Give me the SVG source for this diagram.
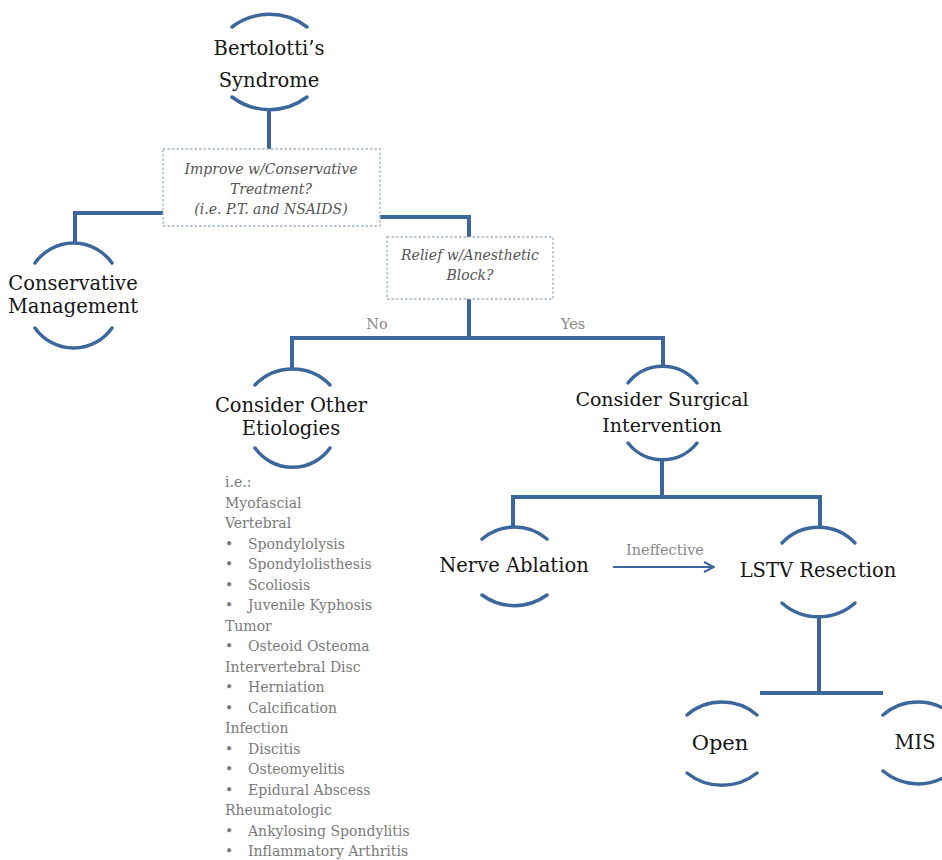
<svg xmlns="http://www.w3.org/2000/svg" width="942" height="860" viewBox="0 0 942 860" font-family="'DejaVu Serif', serif">
<style>
.arc{fill:none;stroke:#3b679c;stroke-width:3.5;stroke-linecap:round}
.ln{fill:none;stroke:#3b679c;stroke-width:4}
.node{font-size:19.5px;fill:#151515;text-anchor:middle}
.box{fill:#fff;stroke:#9fb3cc;stroke-width:1.3;stroke-dasharray:2.5,2}
.q{font-style:italic;font-size:14px;fill:#555;text-anchor:middle}
.lbl{font-size:14.5px;fill:#8a8a8a;text-anchor:middle}
.lst{font-size:14px;fill:#7a7a7a}
</style>
<defs>
<marker id="ah" viewBox="0 0 12 12" refX="11" refY="6" markerWidth="12" markerHeight="12" markerUnits="userSpaceOnUse" orient="auto">
<path d="M1,1 L11,6 L1,11" fill="none" stroke="#3b679c" stroke-width="2"/>
</marker>
</defs>
<rect width="942" height="860" fill="#fff"/>
<g id="connectors">
<path class="ln" d="M269,110 V149"/>
<path class="ln" d="M163,213 H75 V243"/>
<path class="ln" d="M380,217 H469 V237"/>
<path class="ln" d="M469,299 V338"/>
<path class="ln" d="M292,370 V338 H663 V366"/>
<path class="ln" d="M662,458 V497"/>
<path class="ln" d="M513,526 V497 H820 V527"/>
<path class="ln" d="M819,617 V693"/>
<path class="ln" d="M760,693 H883"/>
<path d="M613,567 H714" fill="none" stroke="#3b679c" stroke-width="2" marker-end="url(#ah)"/>
</g>
<g id="n-bertolotti">
<path class="arc" d="M232,27 A62,62 0 0 1 307,27"/>
<text class="node" x="269" y="55">Bertolotti’s</text>
<text class="node" x="269" y="87">Syndrome</text>
<path class="arc" d="M232,97 A62,62 0 0 0 307,97"/>
</g>
<g id="q-conservative">
<rect class="box" x="163" y="149" width="217" height="77"/>
<text class="q" x="271" y="174">Improve w/Conservative</text>
<text class="q" x="271" y="194">Treatment?</text>
<text class="q" x="271" y="214">(i.e. P.T.  and NSAIDS)</text>
</g>
<g id="n-conservative-mgmt">
<path class="arc" d="M35,263 A47,47 0 0 1 112,263"/>
<text class="node" x="73" y="290">Conservative</text>
<text class="node" x="73" y="313">Management</text>
<path class="arc" d="M35,328 A47,47 0 0 0 112,328"/>
</g>
<g id="q-block">
<rect class="box" x="387" y="237" width="166" height="62"/>
<text class="q" x="470" y="260">Relief w/Anesthetic</text>
<text class="q" x="470" y="280">Block?</text>
</g>
<g id="labels">
<text class="lbl" x="377" y="329">No</text>
<text class="lbl" x="573" y="329">Yes</text>
<text class="lbl" x="665" y="555">Ineffective</text>
</g>
<g id="n-other">
<path class="arc" d="M255,385 A52,52 0 0 1 330,385"/>
<text class="node" x="291" y="412">Consider Other</text>
<text class="node" x="291" y="435">Etiologies</text>
<path class="arc" d="M255,448 A46,46 0 0 0 330,448"/>
</g>
<g id="list">
<text class="lst" x="225" y="487">i.e.:</text>
<text class="lst" x="225" y="507.5">Myofascial</text>
<text class="lst" x="225" y="528">Vertebral</text>
<text class="lst" x="225" y="548.5">•<tspan x="248">Spondylolysis</tspan></text>
<text class="lst" x="225" y="569">•<tspan x="248">Spondylolisthesis</tspan></text>
<text class="lst" x="225" y="589.5">•<tspan x="248">Scoliosis</tspan></text>
<text class="lst" x="225" y="610">•<tspan x="248">Juvenile Kyphosis</tspan></text>
<text class="lst" x="225" y="630.5">Tumor</text>
<text class="lst" x="225" y="651">•<tspan x="248">Osteoid Osteoma</tspan></text>
<text class="lst" x="225" y="671.5">Intervertebral Disc</text>
<text class="lst" x="225" y="692">•<tspan x="248">Herniation</tspan></text>
<text class="lst" x="225" y="712.5">•<tspan x="248">Calcification</tspan></text>
<text class="lst" x="225" y="733">Infection</text>
<text class="lst" x="225" y="753.5">•<tspan x="248">Discitis</tspan></text>
<text class="lst" x="225" y="774">•<tspan x="248">Osteomyelitis</tspan></text>
<text class="lst" x="225" y="794.5">•<tspan x="248">Epidural  Abscess</tspan></text>
<text class="lst" x="225" y="815">Rheumatologic</text>
<text class="lst" x="225" y="835.5">•<tspan x="248">Ankylosing Spondylitis</tspan></text>
<text class="lst" x="225" y="856">•<tspan x="248">Inflammatory  Arthritis</tspan></text>
</g>
<g id="n-surgical">
<path class="arc" d="M628,383 A44,44 0 0 1 697,383"/>
<text class="node" x="662" y="406" style="font-size:19px">Consider Surgical</text>
<text class="node" x="662" y="432" style="font-size:19px">Intervention</text>
<path class="arc" d="M628,443 A44,44 0 0 0 697,443"/>
</g>
<g id="n-nerve">
<path class="arc" d="M482,539 A50,50 0 0 1 547,539"/>
<text class="node" x="514" y="572">Nerve Ablation</text>
<path class="arc" d="M482,595 A55,55 0 0 0 547,595"/>
</g>
<g id="n-lstv">
<path class="arc" d="M782,543 A50,50 0 0 1 855,543"/>
<text class="node" x="818" y="577">LSTV Resection</text>
<path class="arc" d="M782,603 A55,55 0 0 0 855,603"/>
</g>
<g id="n-open">
<path class="arc" d="M687,715 A54,54 0 0 1 757,715"/>
<text class="node" x="720" y="750" style="font-size:21px">Open</text>
<path class="arc" d="M687,773 A56,56 0 0 0 757,773"/>
</g>
<g id="n-mis">
<path class="arc" d="M883,715 A54,54 0 0 1 953,715"/>
<text class="node" x="915" y="749">MIS</text>
<path class="arc" d="M883,771 A54,54 0 0 0 953,771"/>
</g>
</svg>
